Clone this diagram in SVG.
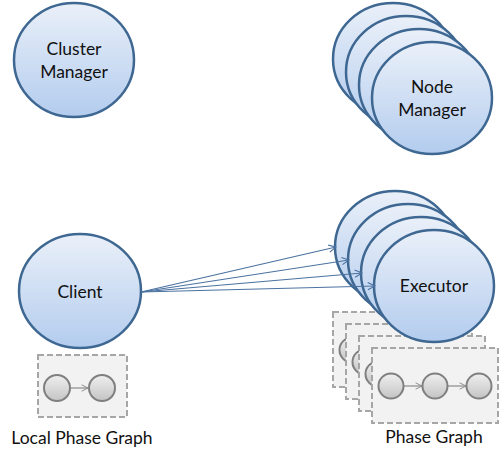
<svg xmlns="http://www.w3.org/2000/svg" width="500" height="455" viewBox="0 0 500 455">
<defs>
<linearGradient id="gBlue" x1="0" y1="0" x2="0" y2="1">
<stop offset="0" stop-color="#eaf0f9"/>
<stop offset="1" stop-color="#b3ccee"/>
</linearGradient>
<linearGradient id="gGray" x1="0" y1="0" x2="0" y2="1">
<stop offset="0" stop-color="#efefef"/>
<stop offset="1" stop-color="#c4c4c4"/>
</linearGradient>
<marker id="arr" viewBox="0 0 10 10" refX="9" refY="5" markerWidth="9" markerHeight="9" markerUnits="userSpaceOnUse" orient="auto">
<path d="M1,1 L9,5 L1,9" fill="none" stroke="#4a72a0" stroke-width="1.2"/>
</marker>
<marker id="arrG" viewBox="0 0 10 10" refX="9" refY="5" markerWidth="8" markerHeight="8" markerUnits="userSpaceOnUse" orient="auto">
<path d="M1,1 L9,5 L1,9" fill="none" stroke="#8a8a8a" stroke-width="1.2"/>
</marker>
</defs>
<style>
.big{fill:url(#gBlue);stroke:#3e6792;stroke-width:2.5}
.box{fill:#f2f2f2;stroke:#a6a6a6;stroke-width:2;stroke-dasharray:6 3}
.sm{fill:url(#gGray);stroke:#7f7f7f;stroke-width:2}
.t{font-family:Lato,"Open Sans","Liberation Sans",sans-serif;font-size:17.5px;fill:#111111;text-anchor:middle}
.c{stroke:#4a72a0;stroke-width:1.2;fill:none}
.cg{stroke:#8a8a8a;stroke-width:1.2;fill:none}
</style>
<rect width="500" height="455" fill="#ffffff"/>

<g id="cluster-manager">
<ellipse class="big" cx="74" cy="60" rx="60" ry="57"/>
<text class="t" x="74" y="55">Cluster</text>
<text class="t" x="74" y="78">Manager</text>
</g>

<g id="node-manager">
<ellipse class="big" cx="393" cy="59" rx="60" ry="56"/>
<ellipse class="big" cx="406" cy="72" rx="60" ry="56"/>
<ellipse class="big" cx="419" cy="85" rx="60" ry="56"/>
<ellipse class="big" cx="432" cy="98" rx="60" ry="56"/>
<text class="t" x="432" y="93">Node</text>
<text class="t" x="432" y="116">Manager</text>
</g>

<g id="local-phase-graph">
<rect class="box" x="38" y="355" width="89" height="62"/>
<line class="cg" x1="71" y1="388" x2="88" y2="388" marker-end="url(#arrG)"/>
<circle class="sm" cx="57" cy="388" r="13"/>
<circle class="sm" cx="102" cy="388" r="13"/>
<text class="t" x="82" y="444">Local Phase Graph</text>
</g>

<g id="phase-graph">
<rect class="box" x="333" y="312" width="126" height="75"/>
<circle class="sm" cx="352" cy="350" r="12.5"/>
<rect class="box" x="346" y="324" width="126" height="75"/>
<circle class="sm" cx="365" cy="362" r="12.5"/>
<rect class="box" x="359" y="336" width="126" height="75"/>
<circle class="sm" cx="378" cy="374" r="12.5"/>
<rect class="box" x="372" y="348" width="126" height="75"/>
<line class="cg" x1="404" y1="386" x2="422" y2="386" marker-end="url(#arrG)"/>
<line class="cg" x1="448" y1="386" x2="466" y2="386" marker-end="url(#arrG)"/>
<circle class="sm" cx="391" cy="386" r="12.5"/>
<circle class="sm" cx="435" cy="386" r="12.5"/>
<circle class="sm" cx="479" cy="386" r="12.5"/>
<text class="t" x="434" y="443">Phase Graph</text>
</g>

<g id="executor">
<ellipse class="big" cx="395" cy="247" rx="60" ry="56"/>
<ellipse class="big" cx="408" cy="260" rx="60" ry="56"/>
<ellipse class="big" cx="421" cy="273" rx="60" ry="56"/>
<ellipse class="big" cx="434" cy="286" rx="60" ry="56"/>
<text class="t" x="434" y="292">Executor</text>
</g>

<g id="client">
<ellipse class="big" cx="80" cy="291" rx="61" ry="57"/>
<text class="t" x="80" y="298">Client</text>
</g>

<g id="connectors">
<line class="c" x1="141" y1="292" x2="336" y2="247" marker-end="url(#arr)"/>
<line class="c" x1="141" y1="292" x2="349" y2="260" marker-end="url(#arr)"/>
<line class="c" x1="141" y1="292" x2="362" y2="273" marker-end="url(#arr)"/>
<line class="c" x1="141" y1="292" x2="375" y2="286" marker-end="url(#arr)"/>
</g>
</svg>
